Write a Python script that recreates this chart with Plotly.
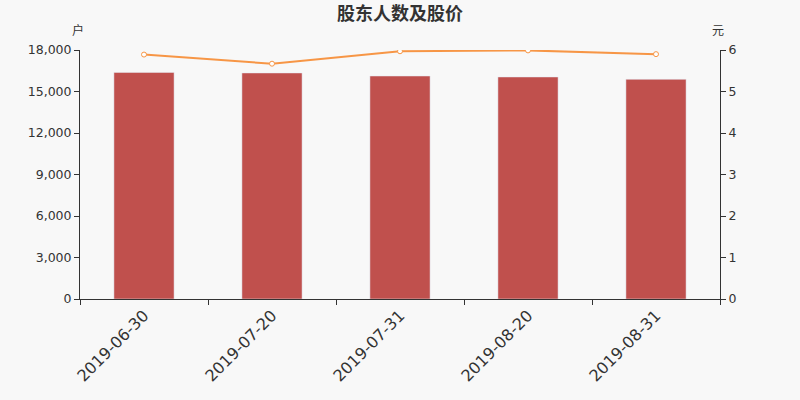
import plotly.graph_objects as go

dates = ["2019-06-30", "2019-07-20", "2019-07-31", "2019-08-20", "2019-08-31"]
holders = [16380, 16340, 16120, 16050, 15880]
price = [5.89, 5.67, 5.97, 5.99, 5.90]
left_ticks = [0, 3000, 6000, 9000, 12000, 15000, 18000]
right_ticks = [0, 1, 2, 3, 4, 5, 6]

fig = go.Figure()
fig.add_trace(go.Bar(
    x=dates, y=holders, name="股东人数",
    marker=dict(color="#c0504d"), width=0.47,
))
fig.add_trace(go.Scatter(
    x=dates, y=price, name="股价", yaxis="y2", mode="lines+markers",
    line=dict(color="#f79646", width=2),
    marker=dict(size=5, color="white", line=dict(color="#f79646", width=1)),
))

fig.update_layout(
    width=800, height=400,
    paper_bgcolor="#f8f8f8", plot_bgcolor="#f8f8f8",
    margin=dict(l=80, r=80, t=50, b=101),
    showlegend=False,
    font=dict(family="Noto Sans CJK SC, DejaVu Sans", color="#333333", size=12),
    title=dict(text="股东人数及股价", x=0.5, xanchor="center", y=0.965, yanchor="middle",
               font=dict(size=18, color="#333333", weight="bold")),
    xaxis=dict(
        type="category", showline=True, linecolor="#333333", linewidth=1,
        ticks="outside", tickson="boundaries", ticklen=5, tickcolor="#333333",
        tickangle=-45, tickfont=dict(size=16, family="DejaVu Sans"), showgrid=False,
    ),
    yaxis=dict(
        range=[0, 18000], tickvals=left_ticks, tickformat=",d",
        showline=True, linecolor="#333333", ticks="outside", ticklen=5,
        tickcolor="#333333", showgrid=False, zeroline=False,
        tickfont=dict(size=12.5, family="DejaVu Sans"),
    ),
    yaxis2=dict(
        range=[0, 6], tickvals=right_ticks, overlaying="y", side="right",
        showline=True, linecolor="#333333", ticks="outside", ticklen=5,
        tickcolor="#333333", showgrid=False, zeroline=False,
        tickfont=dict(size=12.5, family="DejaVu Sans"),
    ),
    annotations=[
        dict(text="户", x=0, xref="paper", xanchor="center", xshift=-2, y=1, yref="paper",
             yanchor="bottom", yshift=10, showarrow=False, font=dict(size=12)),
        dict(text="元", x=1, xref="paper", xanchor="center", xshift=-2, y=1, yref="paper",
             yanchor="bottom", yshift=10, showarrow=False, font=dict(size=12)),
    ],
)

fig.write_html("out.html", config={"displayModeBar": False},
               post_script="document.body.style.margin='0';")
